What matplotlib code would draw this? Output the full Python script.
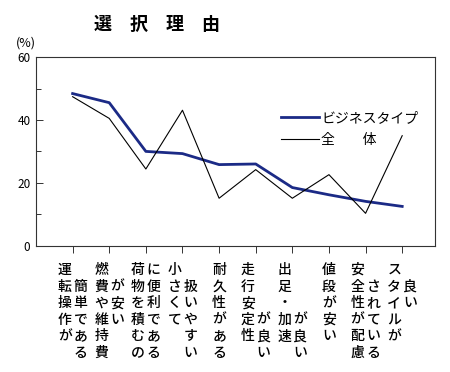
import numpy as np
import matplotlib
matplotlib.use('Agg')
import matplotlib.pyplot as plt
from matplotlib.ticker import MultipleLocator

plt.rcParams['font.family'] = ['Noto Sans CJK JP', 'DejaVu Sans']

# --- Data
# category labels as vertical columns (left column first, '　' = empty cell)
label_cols = [
    ['運転操作が', '　簡単である'],
    ['燃費や維持費', '　が安い'],
    ['荷物を積むの', 'に便利である'],
    ['小さくて', '　扱いやすい'],
    ['耐久性がある'],
    ['走行安定性', '　　　が良い'],
    ['出足・加速', '　　　が良い'],
    ['値段が安い'],
    ['安全性が配慮', '　されている'],
    ['スタイルが', '　良い'],
]
business = [48.4, 45.5, 30.0, 29.3, 25.8, 26.0, 18.5, 16.2, 14.1, 12.5]
overall  = [47.4, 40.5, 24.4, 43.1, 15.1, 24.2, 15.1, 22.6, 10.3, 35.0]
series_names = ['ビジネスタイプ', '全　　体']

# --- Figure
fig = plt.figure(figsize=(4.5, 3.72), dpi=100)
ax = fig.add_axes([0.08, 0.3395, 0.887, 0.507])

x = np.arange(len(business))
ax.plot(x, business, color='#1b2a86', lw=2.0, label=series_names[0])
ax.plot(x, overall, color='black', lw=0.8, label=series_names[1])

ax.set_xlim(-1.0, 9.9)
ax.set_ylim(0, 60)
ax.set_xticks(x)
ax.set_xticklabels([])
ax.tick_params(axis='x', direction='out', length=5, width=0.7, color='#333333')
ax.yaxis.set_major_locator(MultipleLocator(20))
ax.yaxis.set_minor_locator(MultipleLocator(10))
ax.tick_params(axis='y', which='major', direction='in', length=5, width=0.7,
               labelsize=8.5, pad=4, color='#333333')
ax.tick_params(axis='y', which='minor', direction='in', length=3.5, width=0.7, color='#333333')
for sp in ax.spines.values():
    sp.set_linewidth(0.8)
    sp.set_color('#333333')

# vertical category labels, one character at a time
row_pt = 11.95
col_dx = 5.7
for i, cols in enumerate(label_cols):
    n = len(cols)
    for j, col in enumerate(cols):
        dx = (j - (n - 1) / 2) * 2 * col_dx
        for k, ch in enumerate(col):
            if ch == '　':
                continue
            ax.annotate(ch, xy=(i, 0), xycoords=('data', 'axes fraction'),
                        xytext=(dx, -17.5 - k * row_pt), textcoords='offset points',
                        ha='center', va='center', fontsize=10, fontweight='medium')

leg = ax.legend(loc='upper left', bbox_to_anchor=(0.6, 0.745), frameon=False,
                fontsize=10, handlelength=2.7, handletextpad=0.2, labelspacing=0.6,
                borderaxespad=0)

fig.text(0.349, 0.935, '選　択　理　由', ha='center', va='center', fontsize=13,
         fontweight='bold')
fig.text(0.058, 0.885, '(%)', ha='center', va='center', fontsize=9)

fig.savefig('out.png', dpi=100)
